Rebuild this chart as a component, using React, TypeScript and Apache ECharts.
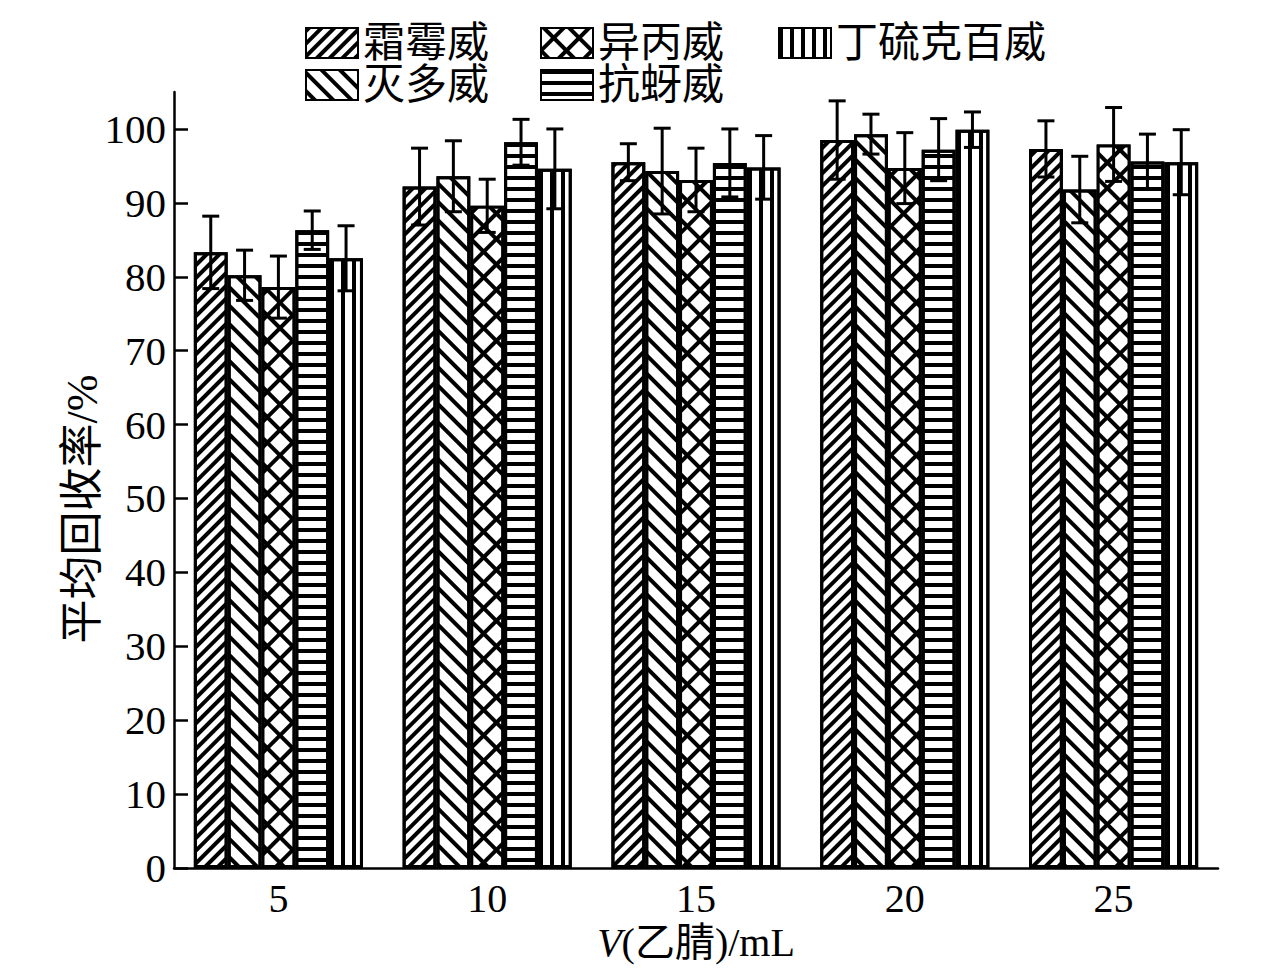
import React, { useEffect, useRef } from 'react';
import * as echarts from 'echarts';

const categories = ['5', '10', '15', '20', '25'];
const seriesNames = ['霜霉威', '灭多威', '异丙威', '抗蚜威', '丁硫克百威'];
const shuangmei = [83.3, 92.2, 95.5, 98.5, 97.3];
const shuangmeiErr = [4.9, 5.2, 2.5, 5.3, 3.8];
const miedu = [80.2, 93.6, 94.3, 99.3, 91.8];
const mieduErr = [3.4, 4.8, 5.8, 2.7, 4.5];
const yibing = [78.6, 89.6, 93.1, 94.7, 97.9];
const yibingErr = [4.2, 3.6, 4.3, 4.8, 5.0];
const kangya = [86.3, 98.2, 95.4, 97.2, 95.6];
const kangyaErr = [2.6, 3.1, 4.6, 4.2, 3.7];
const dingliu = [82.5, 94.6, 94.8, 99.9, 95.5];
const dingliuErr = [4.4, 5.4, 4.3, 2.4, 4.4];
const yTicks = [0, 10, 20, 30, 40, 50, 60, 70, 80, 90, 100];
const yName = '平均回收率/%';

const values = [shuangmei, miedu, yibing, kangya, dingliu];
const errors = [shuangmeiErr, mieduErr, yibingErr, kangyaErr, dingliuErr];

const FONT = "'Liberation Serif', 'Noto Sans CJK SC', serif";
const GAP = 0.19;

const decals: any[] = [
  { symbol: 'rect', color: '#000', dashArrayX: [1, 0], dashArrayY: [4, 5], rotation: -Math.PI / 4 },
  { symbol: 'rect', color: '#000', dashArrayX: [1, 0], dashArrayY: [4, 9], rotation: Math.PI / 4 },
  { symbol: 'rect', color: '#fff', dashArrayX: [14, 4], dashArrayY: [14, 4], rotation: Math.PI / 4 },
  { symbol: 'rect', color: '#000', dashArrayX: [1, 0], dashArrayY: [4, 7], rotation: 0 },
  { symbol: 'rect', color: '#000', dashArrayX: [4, 7], dashArrayY: [1, 0], rotation: 0 },
];

export default function App() {
  const ref = useRef<HTMLDivElement>(null);
  useEffect(() => {
    const chart = echarts.init(ref.current!, undefined, { renderer: 'svg' });
    const barSeries = seriesNames.map((name, si) => ({
      name,
      type: 'bar',
      data: values[si],
      barGap: '0%',
      barCategoryGap: GAP * 100 + '%',
      itemStyle: {
        color: si === 2 ? '#000' : '#fff',
        borderColor: '#000',
        borderWidth: 3,
        decal: decals[si],
      },
      emphasis: { disabled: true },
      z: 2,
    }));
    const errSeries = seriesNames.map((name, si) => ({
      name: 'err' + si,
      type: 'custom',
      data: values[si].map((v, ci) => [ci, v, errors[si][ci]]),
      encode: { x: 0, y: 1 },
      z: 5,
      renderItem: (params: any, api: any) => {
        const ci = api.value(0);
        const v = api.value(1);
        const e = api.value(2);
        const band = api.size([1, 0])[0];
        const bw = (band * (1 - GAP)) / 5;
        const off = (-band * (1 - GAP)) / 2 + bw * (si + 0.5);
        const top = api.coord([ci, v + e]);
        const bot = api.coord([ci, v - e]);
        const x = top[0] + off;
        const st = { stroke: '#000', lineWidth: 3 };
        const cw = 8.5;
        return {
          type: 'group',
          children: [
            { type: 'line', shape: { x1: x, y1: top[1], x2: x, y2: bot[1] }, style: st },
            { type: 'line', shape: { x1: x - cw, y1: top[1], x2: x + cw, y2: top[1] }, style: st },
            { type: 'line', shape: { x1: x - cw, y1: bot[1], x2: x + cw, y2: bot[1] }, style: st },
          ],
        };
      },
    }));
    const legendBase = {
      orient: 'vertical',
      top: 22,
      padding: 0,
      itemWidth: 52,
      itemHeight: 30,
      itemGap: 0,
      icon: 'rect',
      selectedMode: false,
      textStyle: { fontFamily: FONT, fontSize: 42, lineHeight: 42, color: '#000' },
    };
    chart.setOption({
      animation: false,
      backgroundColor: '#fff',
      legend: [
        { ...legendBase, left: 305, data: ['霜霉威', '灭多威'] },
        { ...legendBase, left: 540, data: ['异丙威', '抗蚜威'] },
        { ...legendBase, left: 778, data: ['丁硫克百威'] },
      ],
      graphic: [
        {
          type: 'text',
          x: 82,
          y: 509,
          rotation: Math.PI / 2,
          style: {
            text: yName,
            fontFamily: FONT,
            fontSize: 44,
            fill: '#000',
            align: 'center',
            verticalAlign: 'middle',
          },
        },
      ],
      grid: { left: 174, right: 58, top: 92, bottom: 105, containLabel: false },
      xAxis: {
        type: 'category',
        data: categories,
        boundaryGap: true,
        name: '{i|V}(乙腈)/mL',
        nameLocation: 'middle',
        nameGap: 54,
        nameTextStyle: {
          fontFamily: FONT,
          fontSize: 40,
          color: '#000',
          rich: { i: { fontStyle: 'italic', fontFamily: FONT, fontSize: 40, color: '#000' } },
        },
        axisLine: { lineStyle: { color: '#000', width: 2.5 } },
        axisTick: { inside: true, length: 9, lineStyle: { color: '#000', width: 2.5 } },
        axisLabel: { fontFamily: FONT, fontSize: 40, color: '#000', margin: 10 },
        splitLine: { show: false },
      },
      yAxis: {
        type: 'value',
        min: 0,
        max: 105,
        interval: 10,
        axisLine: { show: true, lineStyle: { color: '#000', width: 2.5 } },
        axisTick: { show: true, inside: true, length: 14, customValues: yTicks, lineStyle: { color: '#000', width: 2.5 } },
        axisLabel: { fontFamily: FONT, fontSize: 41, color: '#000', margin: 8, customValues: yTicks },
        splitLine: { show: false },
      },
      series: [...barSeries, ...errSeries],
    });
    return () => chart.dispose();
  }, []);
  return (
    <div
      ref={ref}
      style={{ position: 'fixed', left: 0, top: 0, width: '1276px', height: '973px', background: '#fff' }}
    />
  );
}
